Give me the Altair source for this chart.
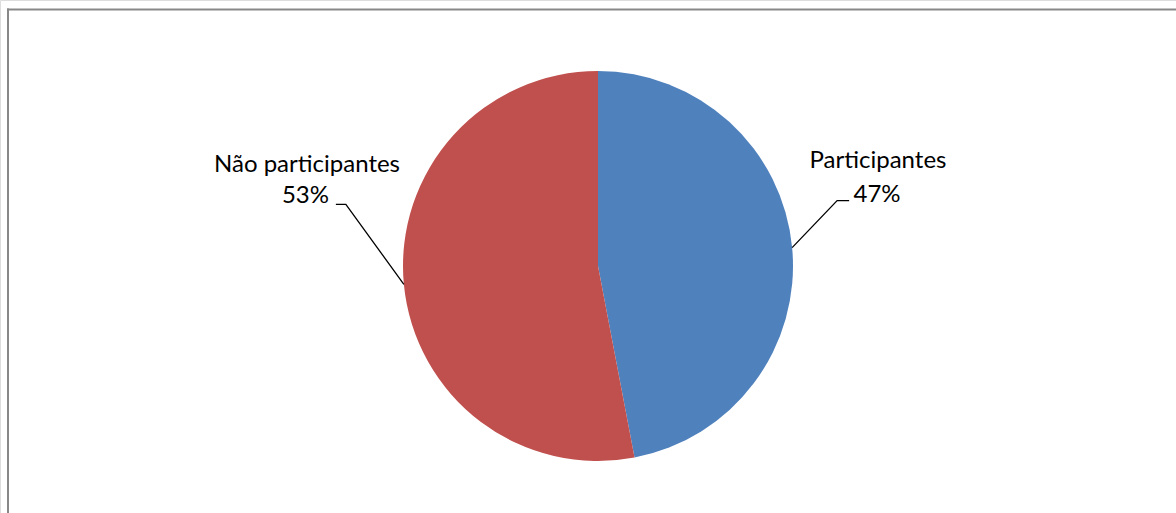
import math
import altair as alt
import pandas as pd

# Data
categories = ["Participantes", "Não participantes"]
values = [47, 53]
colors = ["#4F81BD", "#C0504D"]

W, H = 1176, 513
CX, CY, R = 598, 266, 195

# label layout (pixel positions / offsets for annotations)
elbow_dx = [45, -58]
elbow_dy = [-47, -80]
tail = [12, -10]
name_xy = [(878, 168), (307, 172)]
pct_xy = [(877, 202), (329, 203)]
pct_align = ["center", "right"]

pie_df = pd.DataFrame({"cat": categories, "val": values, "order": [0, 1]})

xs = alt.Scale(domain=[0, W], range=[0, W])
ys = alt.Scale(domain=[0, H], range=[0, H])

total = sum(values)
cum = 0
lines = []
labels = []
for i, (c, v) in enumerate(zip(categories, values)):
    mid = (cum + v / 2) / total * 2 * math.pi
    cum += v
    px = CX + R * math.sin(mid)
    py = CY - R * math.cos(mid)
    ex, ey = px + elbow_dx[i], py + elbow_dy[i]
    hx = ex + tail[i]
    lines += [
        {"g": i, "o": 0, "x": px, "y": py},
        {"g": i, "o": 1, "x": ex, "y": ey},
        {"g": i, "o": 2, "x": hx, "y": ey},
    ]
    labels.append({"t": c, "x": name_xy[i][0], "y": name_xy[i][1], "a": "center"})
    labels.append({"t": f"{v}%", "x": pct_xy[i][0], "y": pct_xy[i][1], "a": pct_align[i]})

line_df = pd.DataFrame(lines)
lab_df = pd.DataFrame(labels)

pie = alt.Chart(pie_df).mark_arc(outerRadius=R).encode(
    theta=alt.Theta("val:Q", stack=True),
    order=alt.Order("order:Q"),
    color=alt.Color("cat:N", scale=alt.Scale(domain=categories, range=colors), legend=None),
    x=alt.value(CX),
    y=alt.value(CY),
)

leaders = alt.Chart(line_df).mark_line(color="black", strokeWidth=1.3).encode(
    x=alt.X("x:Q", scale=xs, axis=None),
    y=alt.Y("y:Q", scale=ys, axis=None),
    detail="g:N",
    order="o:Q",
)

def txt(align):
    return alt.Chart(lab_df[lab_df.a == align]).mark_text(
        font="Lato", fontSize=24, color="black", align=align, baseline="alphabetic"
    ).encode(x=alt.X("x:Q", scale=xs, axis=None), y=alt.Y("y:Q", scale=ys, axis=None), text="t:N")

one = pd.DataFrame({"a": [0]})
top_rule = alt.Chart(one).mark_rule(color="#888888", strokeWidth=2).encode(
    x=alt.value(7), x2=alt.value(W + 40), y=alt.value(9.5)
)
left_rule = alt.Chart(one).mark_rule(color="#888888", strokeWidth=2).encode(
    x=alt.value(8), y=alt.value(8.5), y2=alt.value(H + 40)
)

chart = alt.layer(top_rule, left_rule, pie, leaders, txt("center"), txt("right")).properties(
    width=W, height=H, padding=0, autosize=alt.AutoSizeParams(type="none")
).configure_view(stroke=None).configure(background="white")

chart.save("out.html", embed_options={"renderer": "svg", "actions": False})
